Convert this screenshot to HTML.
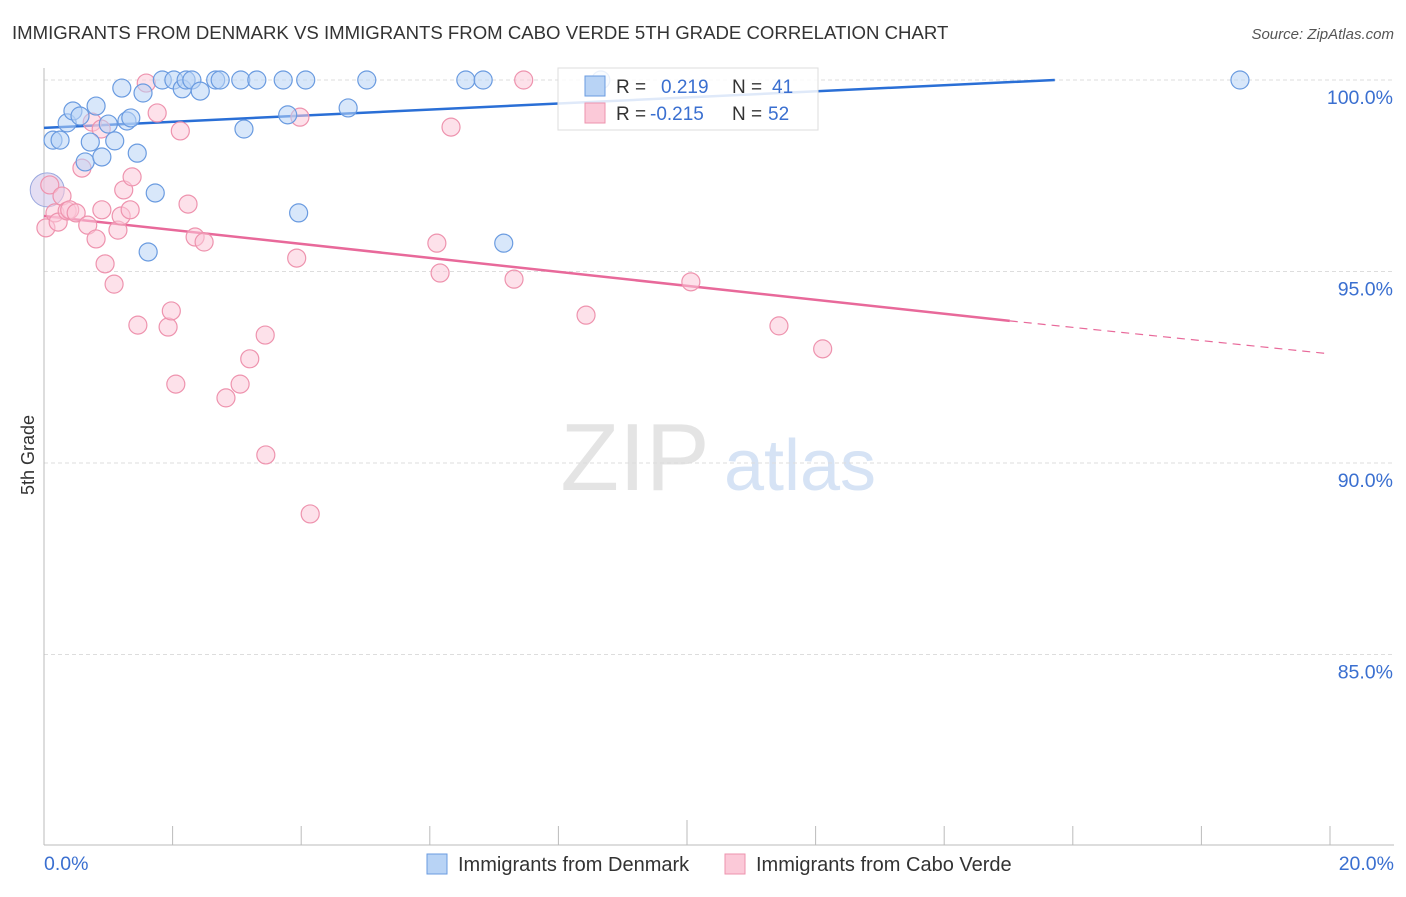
<!DOCTYPE html>
<html><head><meta charset="utf-8"><style>
body{margin:0;background:#fff;font-family:"Liberation Sans",sans-serif}
svg text{font-family:"Liberation Sans",sans-serif}
</style></head><body>
<svg id="chart" width="1406" height="892" viewBox="0 0 1406 892" xmlns="http://www.w3.org/2000/svg">
<text x="12" y="39" font-size="18.6" fill="#333">IMMIGRANTS FROM DENMARK VS IMMIGRANTS FROM CABO VERDE 5TH GRADE CORRELATION CHART</text>
<text x="1394" y="39" font-size="15" fill="#555" font-style="italic" text-anchor="end">Source: ZipAtlas.com</text>
<text x="34" y="455" font-size="18" fill="#333" text-anchor="middle" transform="rotate(-90 34 455)">5th Grade</text>
<g><text x="635" y="490" font-size="96" fill="#e4e4e4" font-family="Liberation Serif" text-anchor="middle">ZIP</text><text x="800" y="490" font-size="72" fill="#d6e3f5" text-anchor="middle">atlas</text></g>
<g id="grid"></g><g id="axes"></g><g id="lines"></g><g id="pts"></g>
<g>
<rect x="558" y="68" width="260" height="62" fill="#fff" fill-opacity="0.85" stroke="#ddd"/>
<rect x="585" y="76" width="20" height="20" fill="#b8d3f5" stroke="#6a9be0"/>
<rect x="585" y="103" width="20" height="20" fill="#fbc9d8" stroke="#ee93ae"/>
<text x="616" y="93" font-size="19" fill="#333">R = </text><text x="661" y="93" font-size="19" fill="#3a6fd0">0.219</text>
<text x="732" y="93" font-size="19" fill="#333">N = </text><text x="772" y="93" font-size="19" fill="#3a6fd0">41</text>
<text x="616" y="120" font-size="19" fill="#333">R = </text><text x="650" y="120" font-size="19" fill="#3a6fd0">-0.215</text>
<text x="732" y="120" font-size="19" fill="#333">N = </text><text x="768" y="120" font-size="19" fill="#3a6fd0">52</text>
</g>
<g>
<rect x="427" y="854" width="20" height="20" fill="#b8d3f5" stroke="#6a9be0"/>
<text x="458" y="871" font-size="20" fill="#333">Immigrants from Denmark</text>
<rect x="725" y="854" width="20" height="20" fill="#fbc9d8" stroke="#ee93ae"/>
<text x="756" y="871" font-size="20" fill="#333">Immigrants from Cabo Verde</text>
</g>
</svg>
<script>
const yTicks=[100,95,90,85];
const yTickLabels=["100.0%","95.0%","90.0%","85.0%"];
const xTicks=[0,2,4,6,8,10,12,14,16,18,20];
const blueX=[0.14,0.25,0.36,0.45,0.56,0.64,0.72,0.81,0.90,1.00,1.10,1.21,1.29,1.35,1.45,1.54,1.62,1.73,1.84,2.02,2.15,2.21,2.30,2.43,2.67,2.74,3.06,3.11,3.31,3.72,3.79,3.96,4.07,4.73,5.02,6.56,6.83,7.15,8.66,18.60];
const blueY=[98.43,98.43,98.88,99.19,99.06,97.86,98.38,99.32,97.99,98.85,98.41,99.79,98.93,99.01,98.09,99.66,95.51,97.05,100,100,99.77,100,100,99.71,100,100,100,98.72,100,100,99.09,96.53,100,99.27,100,100,100,95.74,100,100];
const pinkX=[0.03,0.09,0.17,0.22,0.28,0.36,0.40,0.50,0.59,0.68,0.75,0.81,0.89,0.90,0.95,1.09,1.15,1.20,1.24,1.34,1.37,1.46,1.59,1.76,1.93,1.98,2.05,2.12,2.24,2.35,2.49,2.83,3.05,3.20,3.44,3.45,3.93,3.98,4.14,6.11,6.16,6.33,7.31,7.46,8.43,10.06,11.43,12.11];
const pinkY=[96.14,97.26,96.53,96.29,96.97,96.58,96.61,96.53,97.70,96.21,98.90,95.85,98.72,96.61,95.20,94.67,96.08,96.45,97.13,96.61,97.47,93.60,99.92,99.14,93.55,93.97,92.06,98.67,96.76,95.90,95.77,91.70,92.06,92.72,93.34,90.21,95.35,99.03,88.67,95.74,94.96,98.77,94.80,100,93.86,94.73,93.58,92.98];
const blueTrend=[[0,98.75],[15.72,100]];
const pinkTrend=[[0,96.45],[15.02,93.71],[20,92.85]];
const NS="http://www.w3.org/2000/svg";
const sx=v=>44+v*64.3, sy=v=>80+(100-v)*38.3;
function mk(t,a,p){const e=document.createElementNS(NS,t);for(const k in a)e.setAttribute(k,a[k]);document.getElementById(p).appendChild(e);return e;}
yTicks.forEach((v,i)=>{
const l=mk('line',{x1:44,x2:1394,y1:sy(v),y2:sy(v),stroke:'#ddd','stroke-dasharray':'4 3'},'grid');


const t=mk('text',{x:1393,y:sy(v)+24,'font-size':19.5,fill:'#3a6fd0','text-anchor':'end'},'grid');t.textContent=yTickLabels[i];


});
const ax=mk('line',{x1:44,x2:44,y1:68,y2:845,stroke:'#bbb'},'axes');


const bx=mk('line',{x1:44,x2:1394,y1:845,y2:845,stroke:'#bbb'},'axes');


xTicks.forEach(v=>{const t=mk('line',{x1:sx(v),x2:sx(v),y1:v==10?820:826,y2:845,stroke:'#bbb'},'axes');

});
const xl0=mk('text',{x:44,y:870,'font-size':19.5,fill:'#3a6fd0'},'axes');xl0.textContent='0.0%';


const xl1=mk('text',{x:1394,y:870,'font-size':19.5,fill:'#3a6fd0','text-anchor':'end'},'axes');xl1.textContent='20.0%';


function pts(X,Y,f,s,name){X.forEach((x,i)=>{const c=mk('circle',{cx:sx(x),cy:sy(Y[i]),r:9,fill:f,'fill-opacity':0.55,stroke:s,'stroke-width':1.2},'pts');

});}
const big=mk('circle',{cx:sx(0.05),cy:sy(97.13),r:17,fill:'#c9bde8','fill-opacity':0.5,stroke:'#9aa8de'},'pts');


pts(pinkX,pinkY,'#fbc9d8','#ee93ae','cabo-verde-point');
pts(blueX,blueY,'#b8d3f5','#6a9be0','denmark-point');
const b=mk('line',{x1:sx(blueTrend[0][0]),y1:sy(blueTrend[0][1]),x2:sx(blueTrend[1][0]),y2:sy(blueTrend[1][1]),stroke:'#2a6fd6','stroke-width':2.5},'lines');


const p=mk('line',{x1:sx(pinkTrend[0][0]),y1:sy(pinkTrend[0][1]),x2:sx(pinkTrend[1][0]),y2:sy(pinkTrend[1][1]),stroke:'#e8699a','stroke-width':2.5},'lines');


const pd=mk('line',{x1:sx(pinkTrend[1][0]),y1:sy(pinkTrend[1][1]),x2:sx(pinkTrend[2][0]),y2:sy(pinkTrend[2][1]),stroke:'#e8699a','stroke-width':1.2,'stroke-dasharray':'8 6'},'lines');


</script>
</body></html>
